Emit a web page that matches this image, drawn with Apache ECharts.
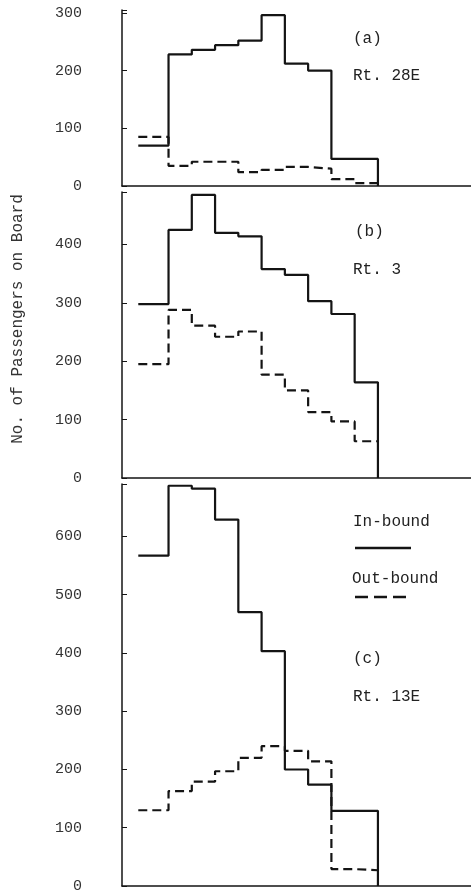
<!DOCTYPE html>
<html>
<head>
<meta charset="utf-8">
<script src="https://cdn.jsdelivr.net/npm/echarts@6/dist/echarts.min.js"></script>
<style>
  html, body { margin: 0; padding: 0; background: #fff; }
  #main { width: 471px; height: 894px; }
</style>
</head>
<body>
<div id="main"></div>
<script>
// stop boundaries (x position of each segment start, last = end of route)
var stops = [-1.3, 0, 1, 2, 3, 4, 5, 6, 7, 8, 9];

// passengers on board per segment
var inA  = [70, 228, 236, 244, 252, 296, 212, 200, 47, 47];
var outA = [85, 35, 42, 42, 24, 28, 33, 30, 12, 5];
var inB  = [298, 425, 485, 420, 414, 358, 348, 303, 281, 164];
var outB = [195, 288, 261, 242, 251, 177, 150, 113, 97, 63];
var inC  = [567, 687, 682, 629, 470, 403, 200, 174, 129, 129];
var outC = [130, 163, 179, 197, 220, 240, 232, 214, 29, 27];

var yTicks = [0, 100, 200, 300, 400, 500, 600];
var panelNames = ['(a)', '(b)', '(c)'];
var routeNames = ['Rt. 28E', 'Rt. 3', 'Rt. 13E'];

var FONT = '"Liberation Mono", "DejaVu Sans Mono", monospace';
var INK = '#141414';

function steps(vals, dropToZero) {
  var pts = stops.map(function (x, i) {
    return [x, vals[Math.min(i, vals.length - 1)]];
  });
  if (dropToZero) pts.push([stops[stops.length - 1], 0]);
  return pts;
}

var myChart = echarts.init(document.getElementById('main'));

var grids = [
  { left: 122, right: 0, top: 10, bottom: 708 },
  { left: 122, right: 0, top: 192, bottom: 416 },
  { left: 122, right: 0, top: 484, bottom: 8 }
];
var maxes = [305, 490, 690];

var xAxes = grids.map(function (g, i) {
  return {
    type: 'value', gridIndex: i, min: -2, max: 13,
    axisLine: { show: true, onZero: false, lineStyle: { color: INK, width: 1.5 } },
    axisTick: { show: false }, axisLabel: { show: false }, splitLine: { show: false }
  };
});
var yAxes = grids.map(function (g, i) {
  return {
    type: 'value', gridIndex: i, min: 0, max: maxes[i], interval: 100,
    axisLine: { show: true, onZero: false, lineStyle: { color: INK, width: 1.5 } },
    axisTick: { show: true, inside: true, length: 5, lineStyle: { color: INK } },
    axisLabel: {
      margin: 40, color: '#333', fontFamily: FONT, fontSize: 15,
      formatter: function (v) { return yTicks.indexOf(v) >= 0 ? String(v) : ''; }
    },
    splitLine: { show: false }
  };
});

function line(data, idx, dashed) {
  return {
    type: 'line', xAxisIndex: idx, yAxisIndex: idx, data: data,
    step: 'end', symbol: 'none', silent: true, animation: false,
    lineStyle: { color: INK, width: 2.2, type: dashed ? [9, 5] : 'solid' }
  };
}

var series = [
  line(steps(inA, true), 0, false), line(steps(outA, false), 0, true),
  line(steps(inB, true), 1, false), line(steps(outB, false), 1, true),
  line(steps(inC, true), 2, false), line(steps(outC, false), 2, true)
];

function label(text, x, y) {
  return {
    type: 'text', left: x, top: y - 9,
    style: { text: text, fill: '#222', font: '16px ' + FONT }
  };
}

myChart.setOption({
  backgroundColor: '#fff',
  grid: grids,
  xAxis: xAxes,
  yAxis: yAxes,
  series: series,
  graphic: [
    label(panelNames[0], 353, 40), label(routeNames[0], 353, 77),
    label(panelNames[1], 355, 233), label(routeNames[1], 353, 271),
    label('In-bound', 353, 523),
    { type: 'line', shape: { x1: 355, y1: 548, x2: 411, y2: 548 },
      style: { stroke: INK, lineWidth: 2.5 } },
    label('Out-bound', 352, 580),
    { type: 'line', shape: { x1: 355, y1: 597, x2: 411, y2: 597 },
      style: { stroke: INK, lineWidth: 2.5, lineDash: [13, 6] } },
    label(panelNames[2], 353, 660), label(routeNames[2], 353, 698),
    {
      type: 'text', x: 18, y: 319, rotation: Math.PI / 2,
      style: {
        text: 'No. of Passengers on Board', fill: '#333', font: '16px ' + FONT,
        align: 'center', verticalAlign: 'middle'
      }
    }
  ]
});
</script>
</body>
</html>
